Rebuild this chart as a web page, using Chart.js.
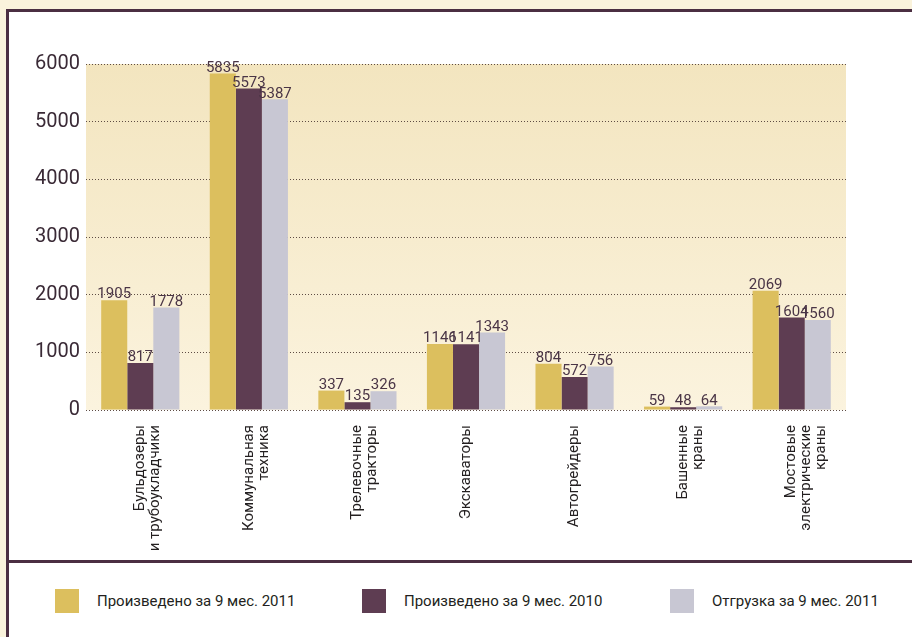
<!DOCTYPE html>
<html lang="ru">
<head>
<meta charset="utf-8">
<title>Производство техники за 9 месяцев</title>
<script src="https://cdn.jsdelivr.net/npm/chart.js@4.4.0/dist/chart.umd.min.js"></script>
<style>
  html, body { margin: 0; padding: 0; }
  body {
    width: 912px; height: 637px; overflow: hidden; position: relative;
    background: #faf3dc; font-family: Roboto, sans-serif;
  }
  .panel {
    position: absolute; left: 6px; top: 9px; width: 920px; height: 640px;
    background: #fff; border-left: 3px solid #4b2f42; border-top: 3px solid #4b2f42;
  }
  .divider {
    position: absolute; left: 6px; top: 560px; width: 912px; height: 3px; background: #4b2f42;
  }
  .chart-box { position: absolute; left: 0; top: 0; width: 912px; height: 560px; }
  .legend { position: absolute; left: 0; top: 589px; width: 912px; height: 24px; }
  .legend-item { position: absolute; top: 0; display: flex; align-items: center; height: 24px; }
  .legend-item i { display: block; width: 24px; height: 24px; margin-right: 18px; }
  .legend-item span { font-size: 15px; color: #231f20; white-space: nowrap; }
</style>
</head>
<body>
<div class="panel"></div>
<div class="divider"></div>
<div class="chart-box"><canvas id="prodChart"></canvas></div>
<div class="legend" id="legend"></div>

<script>
// ── Data ──
const categories = [
  ['Бульдозеры', 'и трубоукладчики'],
  ['Коммунальная', 'техника'],
  ['Трелевочные', 'тракторы'],
  'Экскаваторы',
  'Автогрейдеры',
  ['Башенные', 'краны'],
  ['Мостовые', 'электрические', 'краны']
];
const seriesNames = ['Произведено за 9 мес. 2011', 'Произведено за 9 мес. 2010', 'Отгрузка за 9 мес. 2011'];
const produced2011 = [1905, 5835, 337, 1146, 804, 59, 2069];
const produced2010 = [817, 5573, 135, 1141, 572, 48, 1604];
const shipped2011 = [1778, 5387, 326, 1343, 756, 64, 1560];
const yTicks = [0, 1000, 2000, 3000, 4000, 5000, 6000];

const colors = ['#dcbf5e', '#5e3d52', '#c8c7d3'];
const legendX = [55, 362, 670];

// ── Plot background (cream gradient) ──
const plotBg = {
  id: 'plotBg',
  beforeDraw(chart) {
    const { ctx, chartArea: a } = chart;
    const g = ctx.createLinearGradient(0, a.top, 0, a.bottom);
    g.addColorStop(0, '#f3e5bf');
    g.addColorStop(1, '#fbf3de');
    ctx.save();
    ctx.fillStyle = g;
    ctx.fillRect(a.left, a.top, a.right - a.left, a.bottom - a.top);
    ctx.restore();
  }
};

// ── Value labels above bars ──
const valueLabels = {
  id: 'valueLabels',
  afterDatasetsDraw(chart) {
    const { ctx } = chart;
    ctx.save();
    ctx.font = '15px Roboto';
    ctx.fillStyle = '#4a3546';
    ctx.textAlign = 'center';
    ctx.textBaseline = 'bottom';
    chart.data.datasets.forEach((ds, i) => {
      chart.getDatasetMeta(i).data.forEach((bar, j) => {
        ctx.fillText(ds.data[j], bar.x, bar.y + 2);
      });
    });
    ctx.restore();
  }
};

const seriesData = [produced2011, produced2010, shipped2011];

new Chart(document.getElementById('prodChart'), {
  type: 'bar',
  data: {
    labels: categories,
    datasets: seriesData.map((d, i) => ({
      label: seriesNames[i],
      data: d,
      backgroundColor: colors[i],
      borderWidth: 0,
      barPercentage: 1,
      categoryPercentage: 0.72
    }))
  },
  options: {
    responsive: true,
    maintainAspectRatio: false,
    animation: false,
    layout: { padding: { left: 0, right: 66, top: 64, bottom: 0 } },
    plugins: {
      legend: { display: false },
      tooltip: { enabled: false }
    },
    scales: {
      x: {
        grid: { display: false },
        border: { display: false },
        ticks: {
          minRotation: 90, maxRotation: 90, autoSkip: false, padding: 7,
          color: '#231f20', font: { family: 'Roboto', size: 15, lineHeight: 1.0 }
        },
        afterFit: s => { s.height = 150; }
      },
      y: {
        min: 0, max: 6000,
        afterBuildTicks: s => { s.ticks = yTicks.map(v => ({ value: v })); },
        grid: { color: '#5e4c44', lineWidth: 1, drawTicks: false },
        border: { display: false, dash: [1, 2] },
        ticks: {
          padding: 6, color: '#3a2a36', font: { family: 'Roboto', size: 20 },
          callback: v => String(v)
        },
        afterFit: s => { s.width = 86; }
      }
    }
  },
  plugins: [plotBg, valueLabels]
});

// ── Legend ──
const legend = document.getElementById('legend');
seriesNames.forEach((name, i) => {
  const item = document.createElement('div');
  item.className = 'legend-item';
  item.style.left = legendX[i] + 'px';
  item.innerHTML = `<i style="background:${colors[i]}"></i><span>${name}</span>`;
  legend.appendChild(item);
});
</script>
</body>
</html>
